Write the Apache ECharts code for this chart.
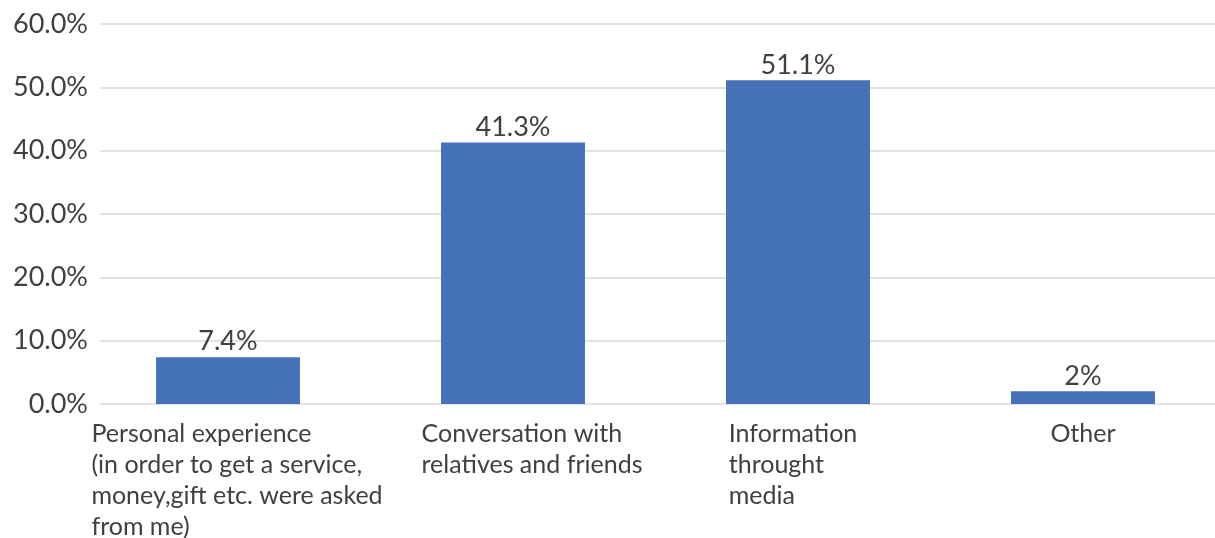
<!DOCTYPE html>
<html>
<head>
<meta charset="utf-8">
<script src="https://cdn.jsdelivr.net/npm/echarts@6/dist/echarts.min.js"></script>
<style>
  html, body { margin: 0; padding: 0; background: #ffffff; }
  #chart { width: 1215px; height: 538px; }
</style>
</head>
<body>
<div id="chart"></div>
<script>
// Sources of information (share of respondents, %)
const categories = [
  'Personal experience\n(in order to get a service,\nmoney,gift etc. were asked\nfrom me)',
  'Conversation with\nrelatives and friends',
  'Information\nthrought\nmedia',
  'Other'
];
const shares = [7.4, 41.3, 51.1, 2];
const yTicks = { min: 0, max: 60, interval: 10 };

const FONT = 'Lato, "Open Sans", sans-serif';
const TEXT = '#404040';
const SIZE = 25;

// horizontal nudge of each wrapped category label block: [left pad, right pad]
const labelPads = [[18, 0], [38, 0], [0, 10], [0, 0]];

const richStyles = {};
labelPads.forEach(function (p, i) {
  richStyles['t' + i] = {
    align: 'left', color: TEXT, fontFamily: FONT, fontSize: SIZE, lineHeight: 31,
    padding: [0, p[1], 0, p[0]]
  };
});

const chart = echarts.init(document.getElementById('chart'), null, { renderer: 'canvas' });

chart.setOption({
  animation: false,
  backgroundColor: '#ffffff',
  grid: [
    // value scale with gridlines
    { left: 100, right: 0, top: 24, bottom: 134, containLabel: false, outerBoundsMode: 'none' },
    // bars and category labels
    { left: 85.5, right: -10.5, top: 24, bottom: 134, containLabel: false, outerBoundsMode: 'none' }
  ],
  xAxis: [
    { gridIndex: 0, type: 'value', show: false, min: 0, max: 1 },
    {
      gridIndex: 1,
      type: 'category',
      data: categories,
      axisLine: { show: false },
      axisTick: { show: false },
      axisLabel: {
        interval: 0,
        margin: 14,
        color: TEXT,
        fontFamily: FONT,
        fontSize: SIZE,
        lineHeight: 31,
        align: 'center',
        formatter: function (v, idx) {
          return v.split('\n').map(function (l) { return '{t' + idx + '|' + l + '}'; }).join('\n');
        },
        rich: richStyles
      }
    }
  ],
  yAxis: [
    {
      gridIndex: 0,
      type: 'value',
      min: yTicks.min,
      max: yTicks.max,
      interval: yTicks.interval,
      axisLine: { show: false },
      axisTick: { show: false },
      splitLine: { lineStyle: { color: '#d9d9d9', width: 1.5 } },
      axisLabel: {
        margin: 12,
        color: TEXT,
        fontFamily: FONT,
        fontSize: 27,
        formatter: function (v) { return v.toFixed(1) + '%'; }
      }
    },
    {
      gridIndex: 1,
      type: 'value',
      min: yTicks.min,
      max: yTicks.max,
      interval: yTicks.interval,
      show: false
    }
  ],
  series: [
    {
      type: 'bar',
      xAxisIndex: 1,
      yAxisIndex: 1,
      data: shares,
      barCategoryGap: '49.5%',
      itemStyle: { color: '#4571b8' },
      label: {
        show: true,
        position: 'top',
        distance: 2,
        color: TEXT,
        fontFamily: FONT,
        fontSize: 27,
        formatter: function (p) { return p.value + '%'; }
      }
    }
  ]
});
</script>
</body>
</html>
